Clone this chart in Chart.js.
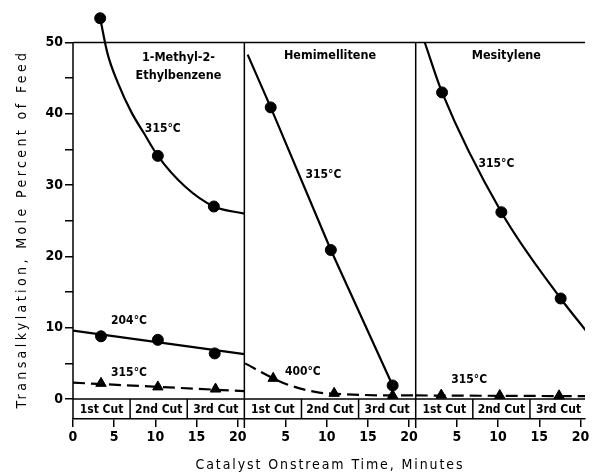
<!DOCTYPE html>
<html>
<head>
<meta charset="utf-8">
<script src="https://cdn.jsdelivr.net/npm/chart.js@4.4.0/dist/chart.umd.min.js"></script>
<style>
  html, body { margin: 0; padding: 0; background: #fff; }
</style>
</head>
<body>
<canvas id="chart" width="592" height="474"></canvas>
<script>
const FONT = '"Liberation Sans Narrow", "DejaVu Sans Condensed", sans-serif';
const PANEL_SPAN = 20.8; // minutes covered by one panel
const FRAME_TOP = 50;    // top of the boxed plot, in percent

const panelNames = [['1-Methyl-2-', 'Ethylbenzene'], ['Hemimellitene'], ['Mesitylene']];
const cutLabels = ['1st Cut', '2nd Cut', '3rd Cut'];
const minuteTicks = [0, 5, 10, 15, 20];
const pctTicks = [0, 5, 10, 15, 20, 25, 30, 35, 40, 45, 50];

// 1-Methyl-2-Ethylbenzene
const meb315Time = [3.3, 10.3, 17.1];
const meb315Pct = [53.4, 34.1, 27.0];
const meb315CurveTime = [3.3, 4.2, 5.5, 7.1, 8.6, 10.3, 13.6, 17.1, 20.8];
const meb315CurvePct = [53.4, 48.4, 44.2, 40.2, 37.3, 34.1, 29.8, 27.0, 26.0];
const meb204Time = [3.4, 10.3, 17.2];
const meb204Pct = [8.8, 8.3, 6.4];
const meb204LineTime = [0, 20.8];
const meb204LinePct = [9.6, 6.3];
const meb315bTime = [3.4, 10.3, 17.3];
const meb315bPct = [2.2, 1.7, 1.4];
const meb315bLineTime = [0, 20.8];
const meb315bLinePct = [2.3, 1.1];

// Hemimellitene
const hem315Time = [3.2, 10.5, 18.0];
const hem315Pct = [40.9, 20.9, 1.9];
const hem315LineTime = [0.4, 3.2, 10.5, 18.0];
const hem315LinePct = [48.3, 40.9, 20.9, 1.9];
const hem400Time = [3.5, 10.9, 18.0];
const hem400Pct = [2.9, 0.8, 0.5];
const hem400CurveTime = [0.1, 3.5, 5.3, 9.1, 10.9, 18.0, 20.8];
const hem400CurvePct = [5.0, 2.9, 2.0, 0.9, 0.75, 0.5, 0.5];

// Mesitylene
const mes315Time = [3.2, 10.4, 17.6];
const mes315Pct = [43.0, 26.2, 14.1];
const mes315CurveTime = [1.1, 3.2, 10.4, 17.6, 20.8];
const mes315CurvePct = [50.0, 43.0, 26.2, 14.1, 9.4];
const mes315bTime = [3.1, 10.2, 17.4];
const mes315bPct = [0.55, 0.5, 0.45];
const mes315bLineTime = [0, 20.8];
const mes315bLinePct = [0.5, 0.4];

// text labels: [panel, minute, percent, text]
const notes = [
  [0, 10.9, 37.9, '315°C'],
  [0, 6.8, 10.9, '204°C'],
  [0, 6.8, 3.6, '315°C'],
  [1, 9.6, 31.4, '315°C'],
  [1, 7.1, 3.8, '400°C'],
  [2, 9.8, 33.0, '315°C'],
  [2, 6.5, 2.7, '315°C']
];
const titleSpots = [[12.8, 47.9], [10.4, 48.1], [11.0, 48.1]];

function pts(panel, times, pcts) {
  return times.map((t, i) => ({ x: panel * PANEL_SPAN + t, y: pcts[i] }));
}
function curve(panel, times, pcts, dashed, smooth) {
  return {
    data: pts(panel, times, pcts),
    borderColor: '#000', borderWidth: 2.2, pointRadius: 0,
    borderDash: dashed ? [12, 6] : [],
    cubicInterpolationMode: smooth ? 'monotone' : 'default',
    tension: 0, fill: false
  };
}
function marks(panel, times, pcts, style) {
  return {
    data: pts(panel, times, pcts), showLine: false,
    pointStyle: style, pointRadius: style === 'triangle' ? 6 : 5.5,
    pointBackgroundColor: '#000', pointBorderColor: '#000', pointBorderWidth: 1
  };
}

const datasets = [
  curve(0, meb315CurveTime, meb315CurvePct, false, true),
  marks(0, meb315Time, meb315Pct, 'circle'),
  curve(0, meb204LineTime, meb204LinePct, false, false),
  marks(0, meb204Time, meb204Pct, 'circle'),
  curve(0, meb315bLineTime, meb315bLinePct, true, false),
  marks(0, meb315bTime, meb315bPct, 'triangle'),
  curve(1, hem315LineTime, hem315LinePct, false, false),
  marks(1, hem315Time, hem315Pct, 'circle'),
  curve(1, hem400CurveTime, hem400CurvePct, true, true),
  marks(1, hem400Time, hem400Pct, 'triangle'),
  curve(2, mes315CurveTime, mes315CurvePct, false, true),
  marks(2, mes315Time, mes315Pct, 'circle'),
  curve(2, mes315bLineTime, mes315bLinePct, true, false),
  marks(2, mes315bTime, mes315bPct, 'triangle')
];

const xTickValues = [];
[0, 1, 2].forEach(p => minuteTicks.forEach(m => {
  if (p === 0 || m > 0) xTickValues.push(p * PANEL_SPAN + m);
}));

const framePlugin = {
  id: 'frame',
  afterDraw(chart) {
    const { ctx, chartArea: a, scales: { x, y } } = chart;
    const y0 = y.getPixelForValue(0);
    const yTop = y.getPixelForValue(FRAME_TOP);
    const seg = (x1, y1, x2, y2) => { ctx.beginPath(); ctx.moveTo(x1, y1); ctx.lineTo(x2, y2); ctx.stroke(); };
    ctx.save();
    ctx.strokeStyle = '#000';
    ctx.lineWidth = 1.5;
    seg(a.left, yTop, a.right, yTop);
    seg(a.left, yTop, a.left, a.bottom);
    seg(a.left, y0, a.right, y0);
    for (let p = 1; p < 3; p++) {
      const px = x.getPixelForValue(p * PANEL_SPAN);
      seg(px, yTop, px, a.bottom + 9);
    }
    ctx.fillStyle = '#000';
    ctx.textAlign = 'center';
    ctx.textBaseline = 'middle';
    ctx.font = 'bold 12px ' + FONT;
    for (let p = 0; p < 3; p++) {
      for (let c = 0; c < 3; c++) {
        const start = p * PANEL_SPAN + c * PANEL_SPAN / 3;
        if (c > 0) { const px = x.getPixelForValue(start); seg(px, y0, px, a.bottom); }
        ctx.fillText(cutLabels[c], x.getPixelForValue(start + PANEL_SPAN / 6), (y0 + a.bottom) / 2 + 1);
      }
    }
    ctx.font = 'bold 12.5px ' + FONT;
    panelNames.forEach((lines, p) => {
      const [t, v] = titleSpots[p];
      lines.forEach((s, i) => {
        ctx.fillText(s, x.getPixelForValue(p * PANEL_SPAN + t), y.getPixelForValue(v) + i * 18);
      });
    });
    ctx.font = 'bold 12px ' + FONT;
    notes.forEach(([p, t, v, s]) => {
      ctx.fillText(s, x.getPixelForValue(p * PANEL_SPAN + t), y.getPixelForValue(v));
    });
    // axis titles
    ctx.font = '14px ' + FONT;
    ctx.letterSpacing = '1.9px';
    ctx.fillText('Catalyst Onstream Time, Minutes', 330, 465);
    ctx.letterSpacing = '3.4px';
    ctx.translate(22, 229);
    ctx.rotate(-Math.PI / 2);
    ctx.fillText('Transalkylation, Mole Percent of Feed', 0, 0);
    ctx.restore();
  }
};

new Chart(document.getElementById('chart'), {
  type: 'line',
  data: { datasets },
  plugins: [framePlugin],
  options: {
    responsive: false,
    animation: false,
    devicePixelRatio: 1,
    layout: { padding: { top: 10, right: 0, left: 0, bottom: 0 } },
    plugins: { legend: { display: false }, tooltip: { enabled: false } },
    scales: {
      x: {
        type: 'linear', min: 0, max: 62.15,
        afterFit: s => { s.height = 55; },
        afterBuildTicks: s => { s.ticks = xTickValues.map(v => ({ value: v })); },
        ticks: {
          color: '#000', padding: 2, maxRotation: 0, autoSkip: false,
          font: { family: FONT, size: 14, weight: 'bold' },
          callback: v => String(Math.round(v - Math.floor((v + 0.01) / PANEL_SPAN) * PANEL_SPAN))
        },
        grid: { drawOnChartArea: false, drawTicks: true, tickLength: 8, color: '#000', lineWidth: 1.5 },
        border: { display: true, color: '#000', width: 1.5 }
      },
      y: {
        type: 'linear', min: -2.8, max: 54.5,
        afterFit: s => { s.width = 73; },
        afterBuildTicks: s => { s.ticks = pctTicks.map(v => ({ value: v })); },
        ticks: {
          color: '#000', padding: 2, autoSkip: false,
          font: { family: FONT, size: 14, weight: 'bold' },
          callback: v => (v % 10 === 0 ? String(v) : '')
        },
        grid: { drawOnChartArea: false, drawTicks: true, tickLength: 8, color: '#000', lineWidth: 1.5 },
        border: { display: false }
      }
    }
  }
});
</script>
</body>
</html>
